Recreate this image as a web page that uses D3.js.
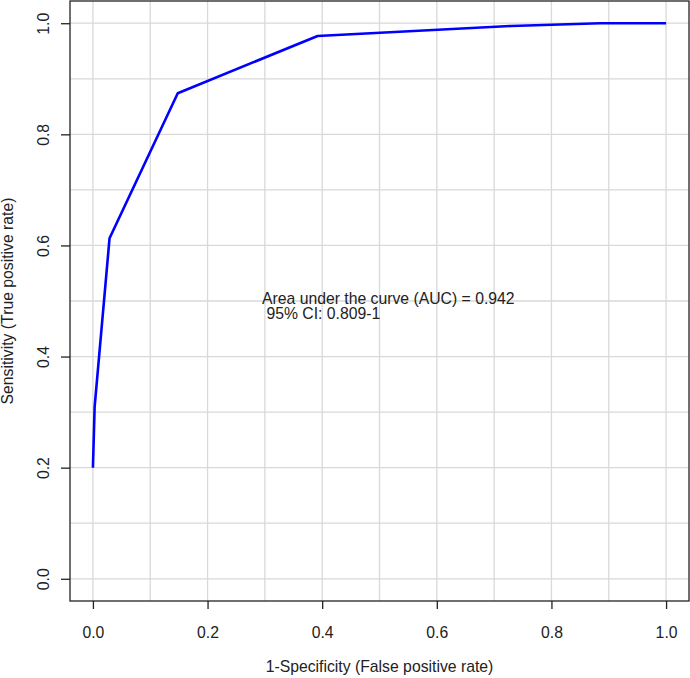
<!DOCTYPE html>
<html>
<head>
<meta charset="utf-8">
<script src="https://cdn.jsdelivr.net/npm/d3@7"></script>
<style>
  html, body { margin: 0; padding: 0; background: #fff; }
  svg { display: block; font-family: "Liberation Sans", Arial, sans-serif; }
</style>
</head>
<body>
<svg id="chart" width="690" height="678"></svg>
<script>
// ROC curve points (1-specificity, sensitivity)
const fpr = [0.0, 0.003, 0.029, 0.148, 0.392, 0.73, 0.885, 1.0];
const tpr = [0.2, 0.31, 0.613, 0.874, 0.977, 0.995, 1.0, 1.0];
const xTicks = [0, 0.2, 0.4, 0.6, 0.8, 1.0];
const yTicks = [0, 0.2, 0.4, 0.6, 0.8, 1.0];
const gridVals = [0, 0.1, 0.2, 0.3, 0.4, 0.5, 0.6, 0.7, 0.8, 0.9, 1.0];
const xLabel = "1-Specificity (False positive rate)";
const yLabel = "Sensitivity (True positive rate)";
const annot = ["Area under the curve (AUC) = 0.942", " 95% CI: 0.809-1"];

const svg = d3.select("#chart");
const L = 70, R = 689, T = 1, B = 601;
const x = d3.scaleLinear().domain([-0.04, 1.04]).range([L, R]);
const y = d3.scaleLinear().domain([-0.04, 1.04]).range([B, T]);
const textCol = "#222";
const fs = 15.75;

// grid
const g = svg.append("g");
g.selectAll("line.v").data(gridVals).join("line")
  .attr("x1", d => x(d)).attr("x2", d => x(d))
  .attr("y1", T).attr("y2", B)
  .attr("stroke", "#d9d9d9").attr("stroke-width", 1.3);
g.selectAll("line.h").data(gridVals).join("line")
  .attr("y1", d => y(d)).attr("y2", d => y(d))
  .attr("x1", L).attr("x2", R)
  .attr("stroke", "#d9d9d9").attr("stroke-width", 1.3);

// curve
const pts = fpr.map((d, i) => [d, tpr[i]]);
svg.append("path")
  .datum(pts)
  .attr("d", d3.line().x(d => x(d[0])).y(d => y(d[1])))
  .attr("fill", "none").attr("stroke", "#0000ff").attr("stroke-width", 2.6)
  .attr("stroke-linejoin", "round");

// box
svg.append("rect").attr("x", L).attr("y", T).attr("width", R - L).attr("height", B - T)
  .attr("fill", "none").attr("stroke", "#222").attr("stroke-width", 1.3);

// x axis
const xa = svg.append("g").attr("transform", `translate(0,${B})`)
  .call(d3.axisBottom(x).tickValues(xTicks).tickFormat(d3.format(".1f")).tickSize(8).tickPadding(18).tickSizeOuter(0));
xa.select(".domain").remove();
xa.selectAll("line").attr("stroke", "#222").attr("stroke-width", 1.3);
xa.selectAll("text").attr("font-size", fs).attr("fill", textCol).attr("font-family", "Liberation Sans, Arial, sans-serif");

// y axis
const ya = svg.append("g").attr("transform", `translate(${L},0)`)
  .call(d3.axisLeft(y).tickValues(yTicks).tickFormat(d3.format(".1f")).tickSize(9).tickSizeOuter(0));
ya.select(".domain").remove();
ya.selectAll("line").attr("stroke", "#222").attr("stroke-width", 1.3);
ya.selectAll("text").remove();
ya.selectAll(".tick").append("text")
  .attr("transform", "translate(-21,0) rotate(-90)")
  .attr("text-anchor", "middle")
  .attr("font-size", fs).attr("fill", textCol)
  .attr("font-family", "Liberation Sans, Arial, sans-serif")
  .text(d => d3.format(".1f")(d));

// axis titles
svg.append("text").attr("x", (L + R) / 2).attr("y", 672)
  .attr("text-anchor", "middle").attr("font-size", fs).attr("fill", textCol).text(xLabel);
svg.append("text").attr("transform", `translate(13,${(T + B) / 2}) rotate(-90)`)
  .attr("text-anchor", "middle").attr("font-size", fs).attr("fill", textCol).text(yLabel);

// annotation
const at = svg.append("text").attr("font-size", fs).attr("fill", textCol);
annot.forEach((s, i) => {
  at.append("tspan").attr("x", x(0.295)).attr("y", y(0.495) + i * 15.5)
    .attr("xml:space", "preserve").style("white-space", "pre").text(s);
});
</script>
</body>
</html>
